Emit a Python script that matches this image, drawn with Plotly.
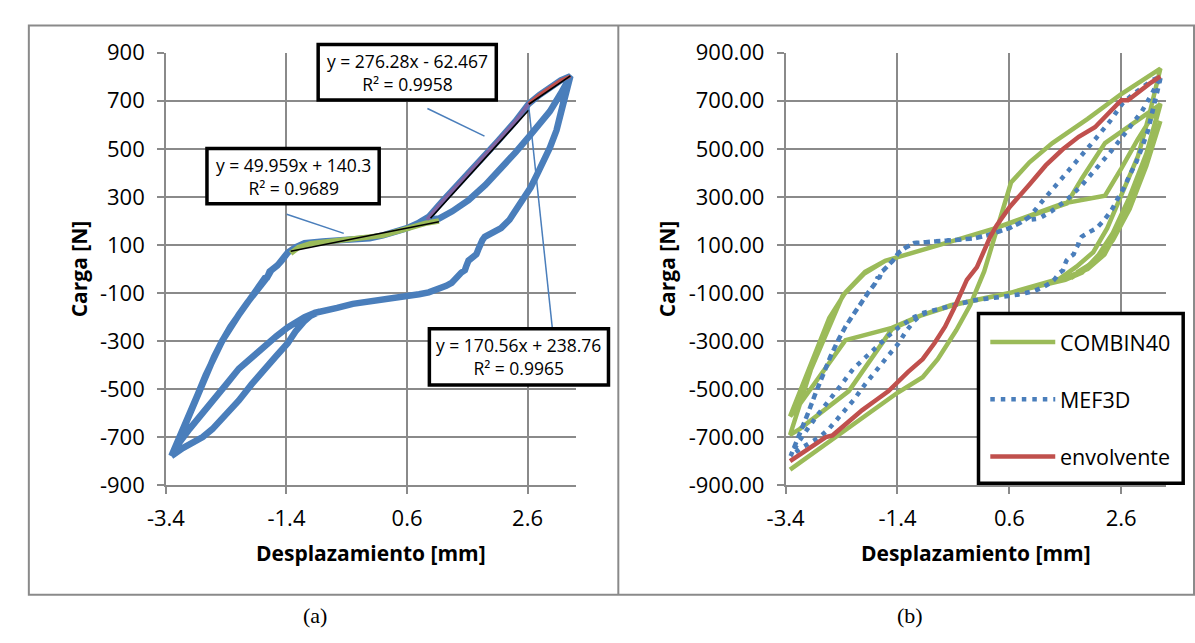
import plotly.graph_objects as go

W, H = 1195, 643

# ---------------- data ----------------
# Measured hysteresis (used in panel a, and as MEF3D in panel b), split by branch
branch_a_x = [-3.31, -3.15, -3.0, -2.87, -2.74, -2.6, -2.46, -2.33, -2.19, -2.05, -1.92, -1.8, -1.76, -1.72,
              -1.68, -1.65, -1.55, -1.48, -1.38, -1.25, -1.1, -0.8, -0.56, -0.3, -0.02, 0.2, 0.42, 0.6, 0.8, 0.96,
              1.2, 1.5, 1.8, 2.1, 2.4, 2.62, 2.8, 3.0, 3.15, 3.31]
branch_a_y = [-778, -690, -600, -520, -441, -365, -296, -240, -190, -140, -97, -60, -38, -35,
              -10, -5, 15, 35, 68, 90, 108, 115, 118, 122, 128, 140, 154, 170, 193, 217,
              285, 365, 450, 530, 615, 688, 725, 760, 785, 802]
branch_c_x = [0.96, 1.13, 1.35, 1.62, 1.9, 2.16, 2.4, 2.62, 2.8, 2.97, 3.15, 3.31]
branch_c_y = [205, 210, 240, 286, 350, 418, 485, 550, 605, 656, 730, 795]
branch_d_x = [3.31, 3.2, 3.08, 2.97, 2.87, 2.75, 2.65, 2.53, 2.43, 2.3, 2.16, 2.0, 1.89, 1.85, 1.83, 1.78,
              1.75, 1.68, 1.62, 1.58, 1.56, 1.5, 1.45, 1.4, 1.34, 1.25, 1.18, 1.06, 0.96, 0.8, 0.58, 0.3,
              -0.02, -0.3, -0.56, -0.8, -0.94]
branch_d_y = [802, 700, 577, 505, 445, 390, 339, 290, 246, 205, 170, 150, 134, 120, 101, 80,
              61, 50, 35, 10, -5, -15, -31, -45, -58, -70, -78, -90, -97, -105, -112, -120,
              -130, -145, -162, -176, -183]
branch_e_x = [-0.94, -1.1, -1.21, -1.38, -1.57, -1.76, -1.98, -2.19, -2.4, -2.63, -2.82, -3.01, -3.17, -3.31]
branch_e_y = [-183, -200, -216, -243, -280, -322, -370, -415, -480, -547, -605, -666, -720, -778]
branch_f_x = [-0.85, -1.0, -1.1, -1.25, -1.38, -1.57, -1.76, -1.98, -2.19, -2.4, -2.63, -2.79, -2.95, -3.12, -3.31]
branch_f_y = [-177, -195, -216, -260, -309, -362, -415, -480, -547, -605, -666, -699, -720, -745, -778]

# Segments selected for the linear fits in panel a
seg_green_x = [-1.33, -1.2, -1.0, -0.6, -0.2, 0.2, 0.6, 0.9, 1.13]
seg_green_y = [65, 90, 105, 115, 125, 140, 168, 190, 200]
seg_purple_x = [0.93, 1.2, 1.5, 1.8, 2.1, 2.4, 2.62]
seg_purple_y = [205, 285, 365, 450, 530, 615, 688]
seg_red_x = [2.62, 2.8, 3.0, 3.15, 3.31]
seg_red_y = [688, 725, 760, 785, 802]

# Linear fits: (slope, intercept, x_from, x_to, label)
fits = [
    (49.959, 140.3, -1.33, 1.13, "y = 49.959x + 140.3<br>R² = 0.9689"),
    (276.28, -62.467, 0.99, 2.62, "y = 276.28x - 62.467<br>R² = 0.9958"),
    (170.56, 238.76, 2.62, 3.31, "y = 170.56x + 238.76<br>R² = 0.9965"),
]

# COMBIN40 model (panel b): three cycles, then a separate loading/unloading excursion
combin_x = [-3.32, -2.9, -2.4, -1.9, -1.4, -0.95, -0.68, -0.35, -0.1, 0.15, 0.35, 0.5, 0.63, 0.96, 1.37, 2.0, 2.6, 3.3,
            3.1, 2.9, 2.6, 2.35, 2.1, 1.8, 1.5, 0.6, -0.4, -1.0, -1.5, -1.8, -2.27, -3.15, -3.32,
            -2.95, -2.6, -2.38, -2.0, -1.62, -0.45, 0.31, 1.55, 2.31, 2.6, 2.89, 3.3,
            3.05, 2.75, 2.45, 2.2, 1.9, 1.6, 0.6, -0.45, -1.0, -1.5, -2.33, -3.2, -3.32,
            -2.62, -2.33, -1.98, -1.62, -0.45, 0.31, 1.63, 1.9, 2.31, 2.72, 3.3,
            3.05, 2.8, 2.6, 2.3, 2.0, 1.7,
            None,
            1.5, 2.0, 2.3, 2.6, 2.9, 3.3, 3.05, 2.75, 2.45, 2.15, 1.8]
combin_y = [-835, -765, -680, -595, -515, -450, -375, -255, -150, -10, 150, 270, 360, 444, 524, 625, 728, 834,
            640, 470, 300, 170, 70, 10, -40, -100, -150, -195, -250, -350, -508, -666, -690,
            -420, -230, -111, -20, 34, 114, 167, 272, 305, 418, 537, 689,
            480, 300, 150, 60, -15, -45, -100, -150, -195, -245, -296, -580, -613,
            -204, -97, -12, 34, 114, 167, 273, 378, 524, 590, 685,
            470, 300, 190, 70, 5, -38,
            None,
            -45, 0, 60, 190, 350, 616, 430, 250, 120, 35, -15]

# Envelope (panel b)
env_x = [-3.32, -3.1, -2.86, -2.68, -2.56, -2.3, -2.03, -1.8, -1.56, -1.21, -0.95, -0.74, -0.55, -0.39, -0.25,
         -0.16, 0.02, 0.14, 0.25, 0.37, 0.61, 0.96, 1.25, 1.55, 1.84, 2.13, 2.42, 2.6, 2.72, 2.89, 3.1, 3.3]
env_y = [-799, -765, -732, -699, -692, -640, -587, -548, -508, -428, -375, -309, -240, -164, -95,
         -45, 8, 74, 130, 180, 259, 352, 431, 497, 550, 590, 656, 702, 702, 735, 770, 801]

x_ticks = [-3.4, -1.4, 0.6, 2.6]
y_ticks = [900, 700, 500, 300, 100, -100, -300, -500, -700, -900]
legend_names = ["COMBIN40", "MEF3D", "envolvente"]

# ---------------- colours / helpers ----------------
BLUE = "#4a7ebb"
GREEN = "#9bbb59"
RED = "#c0504d"
PURPLE = "#8064a2"
GRID = "#8a8a8a"
FONT = "Open Sans"
DOT = "4.5px,6px"


def px(x):
    """window pixel column -> paper fraction"""
    return x / W


def py(y):
    """window pixel row -> paper fraction"""
    return 1 - y / H


def loop(*parts):
    xs, ys = [], []
    for bx, by in parts:
        xs += list(bx)
        ys += list(by)
    return xs, ys


fig = go.Figure()

# ---------------- panel a ----------------
hx, hy = loop((branch_a_x, branch_a_y), (branch_d_x, branch_d_y), (branch_e_x, branch_e_y),
              (branch_a_x[:30], branch_a_y[:30]), (branch_c_x, branch_c_y),
              (branch_d_x, branch_d_y), (branch_f_x, branch_f_y))
fig.add_trace(go.Scatter(x=hx, y=hy, mode="lines", line=dict(color=BLUE, width=6.5),
                         xaxis="x", yaxis="y", showlegend=False, hoverinfo="skip"))
for sx, sy, col, wd in [(seg_green_x, seg_green_y, GREEN, 5.5),
                        (seg_purple_x, seg_purple_y, PURPLE, 3.5),
                        (seg_red_x, seg_red_y, RED, 3.5)]:
    fig.add_trace(go.Scatter(x=sx, y=sy, mode="lines", line=dict(color=col, width=wd),
                             xaxis="x", yaxis="y", showlegend=False, hoverinfo="skip"))
for m, b, x0, x1, _ in fits:
    fig.add_trace(go.Scatter(x=[x0, x1], y=[m * x0 + b, m * x1 + b], mode="lines",
                             line=dict(color="black", width=1.6),
                             xaxis="x", yaxis="y", showlegend=False, hoverinfo="skip"))

# ---------------- panel b ----------------
mx, my = hx, hy
series_b = [
    (combin_x, combin_y, dict(color=GREEN, width=4.5)),
    (mx, my, dict(color=BLUE, width=4.5, dash=DOT)),
    (env_x, env_y, dict(color=RED, width=4.5)),
]
for (sx, sy, ln), name in zip(series_b, legend_names):
    fig.add_trace(go.Scatter(x=sx, y=sy, mode="lines", name=name, line=ln, connectgaps=False,
                             xaxis="x2", yaxis="y2", showlegend=False, hoverinfo="skip"))

# ---------------- axes ----------------
ydom = [py(492.3), py(38.5)]
common_x = dict(range=[-3.4, 3.4], tickvals=x_ticks, ticktext=[f"{v:g}" for v in x_ticks],
                showgrid=True, gridcolor=GRID, gridwidth=1.5, zeroline=False,
                showline=True, linecolor=GRID, linewidth=1.5,
                ticks="outside", ticklen=7, tickwidth=1.5, tickcolor=GRID,
                ticklabelstandoff=6,
                tickfont=dict(family=FONT, size=22, color="black"),
                title=dict(text="<b>Desplazamiento [mm]</b>", font=dict(family=FONT, size=21, color="black"),
                           standoff=15))
common_y = dict(range=[-900, 900], tickvals=y_ticks,
                showgrid=True, gridcolor=GRID, gridwidth=1.5, zeroline=False,
                showline=True, linecolor=GRID, linewidth=1.5,
                ticks="outside", ticklen=7, tickwidth=1.5, tickcolor=GRID,
                ticklabelstandoff=8,
                tickfont=dict(family=FONT, size=22, color="black"),
                title=dict(text="<b>Carga [N]</b>", font=dict(family=FONT, size=21, color="black"),
                           standoff=7))

fig.update_layout(
    width=W, height=H, margin=dict(l=0, r=0, t=0, b=0),
    paper_bgcolor="white", plot_bgcolor="white",
    xaxis=dict(common_x, domain=[px(149.3), px(565.8)], anchor="y"),
    yaxis=dict(common_y, domain=ydom, anchor="x", ticktext=[str(v) for v in y_ticks]),
    xaxis2=dict(common_x, domain=[px(779), px(1165.5)], anchor="y2"),
    yaxis2=dict(common_y, domain=ydom, anchor="x2", ticktext=[f"{v:.2f}" for v in y_ticks]),
    showlegend=False,
)

shapes = []
# outer frame and divider
shapes.append(dict(type="rect", xref="paper", yref="paper", x0=px(10), x1=px(1194), y0=py(607), y1=py(10),
                   line=dict(color=GRID, width=2), layer="below"))
shapes.append(dict(type="line", xref="paper", yref="paper", x0=px(609), x1=px(609), y0=py(607), y1=py(10),
                   line=dict(color=GRID, width=2)))
# leader lines from fit labels
for (x0, y0, x1, y1) in [(272, 208, 330, 228), (415, 97, 473, 126), (518, 95, 542, 328)]:
    shapes.append(dict(type="line", xref="paper", yref="paper", x0=px(x0), y0=py(y0), x1=px(x1), y1=py(y1),
                       line=dict(color=BLUE, width=1.5)))
# fit label boxes
boxes = [(191, 139, 366, 197), (304, 30, 485, 88), (417, 328, 599, 387)]
for (x0, y0, x1, y1) in boxes:
    shapes.append(dict(type="rect", xref="paper", yref="paper", x0=px(x0), y0=py(y1), x1=px(x1), y1=py(y0),
                       line=dict(color="black", width=3.5), fillcolor="white", layer="above"))
# legend of panel b: frame and line samples
shapes.append(dict(type="rect", xref="paper", yref="paper", x0=px(975), y0=py(490), x1=px(1183), y1=py(312),
                   line=dict(color="black", width=3.5), fillcolor="white", layer="above"))
legend_rows = [342, 402, 462]
for row, (_, _, ln) in zip(legend_rows, series_b):
    shapes.append(dict(type="line", xref="paper", yref="paper", x0=px(987), x1=px(1053),
                       y0=py(row), y1=py(row), line=ln, layer="above"))
fig.update_layout(shapes=shapes)

annotations = []
for (x0, y0, x1, y1), (_, _, _, _, label) in zip(boxes, fits):
    annotations.append(dict(xref="paper", yref="paper", x=px((x0 + x1) / 2), y=py((y0 + y1) / 2),
                            text=label, showarrow=False, xanchor="center", yanchor="middle",
                            font=dict(family=FONT, size=17.5, color="black"), align="center"))
for row, name in zip(legend_rows, legend_names):
    annotations.append(dict(xref="paper", yref="paper", x=px(1056), y=py(row), text=name, showarrow=False,
                            xanchor="left", yanchor="middle",
                            font=dict(family=FONT, size=21.5, color="black")))
# panel captions sit on the bottom edge
for cx, cap in [(301, "(a)"), (905, "(b)")]:
    annotations.append(dict(xref="paper", yref="paper", x=px(cx), y=0, text=cap, showarrow=False,
                            xanchor="center", yanchor="bottom", borderpad=0,
                            font=dict(family="Liberation Serif", size=22, color="black")))
fig.update_layout(annotations=annotations)

# page body without default margins so the figure fills the window exactly
fig.write_html("out.html",
               post_script="document.body.style.margin='0';document.body.style.overflow='hidden';")
